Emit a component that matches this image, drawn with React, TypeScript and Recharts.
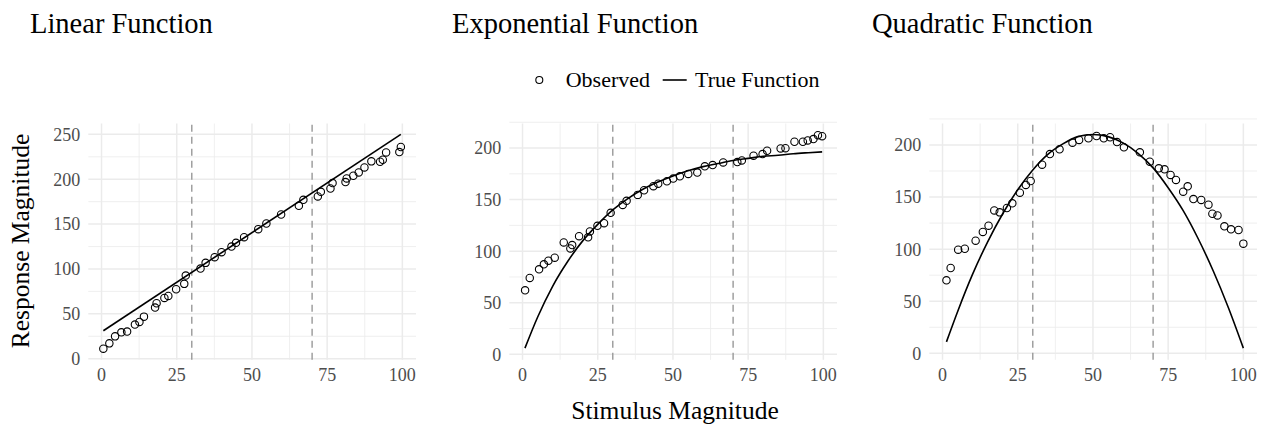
import React from "react"
import { CartesianGrid, ComposedChart, Line, ReferenceLine, Scatter, XAxis, YAxis } from "recharts"

// values
const linObsX = [0.6, 2.6, 4.5, 6.6, 8.5, 11.1, 12.6, 14.1, 17.8, 18.3, 20.9, 22.2, 24.8, 27.5, 28, 32.9, 34.6, 37.6, 39.9, 43.2, 44.7, 47.4, 52.1, 54.8, 59.7, 65.6, 67.1, 71.9, 72.9, 76.1, 76.8, 81.1, 81.5, 83.7, 85.5, 87.4, 89.7, 92.6, 93.5, 94.6, 99, 99.5]
const linObsY = [11.2, 17.1, 24.9, 29.4, 30.2, 38, 41, 46.9, 57, 61.8, 67.7, 70, 77.4, 83.4, 92.7, 100.5, 106.8, 113.1, 118.7, 125, 129.1, 135.4, 144.4, 150.7, 160.7, 170.4, 177.1, 180.8, 186, 189.7, 195.7, 196.8, 200.9, 203.9, 207.6, 213.2, 219.9, 219.5, 221.7, 229.9, 230.3, 235.9]
const linTrueX = [0.6, 99.5]
const linTrueY = [31.2, 250]

const expObsX = [0.85, 2.4, 5.5, 7.1, 8.6, 10.7, 13.7, 15.9, 16.5, 18.8, 21.8, 22.4, 24.9, 27.1, 29.3, 33.3, 34.6, 38.3, 40.4, 43.5, 45.1, 48, 50.1, 52.3, 55.1, 58.1, 60.6, 63.2, 66.7, 71.4, 72.9, 76.8, 79.8, 81.3, 85.8, 87.4, 90.4, 93.2, 94.8, 96.7, 98.2, 99.6]
const expObsY = [62.1, 74.1, 82.4, 87.3, 90.8, 93.7, 108.5, 102.7, 105.9, 114.6, 113.4, 119.2, 124.6, 127.2, 137.2, 144.9, 148.8, 154.6, 159.1, 163, 165.5, 167.8, 170.4, 172.6, 174.9, 176.2, 182.3, 183.5, 186.1, 186.4, 188, 192.6, 194.2, 197.4, 199.6, 199.9, 206.1, 206.1, 207.4, 208.7, 212.5, 211.5]
const expTrueX = [0.8, 5, 10, 15, 20, 25, 30, 35, 40, 45, 50, 55, 60, 65, 70, 75, 80, 85, 90, 95, 99.6]
const expTrueY = [6, 36, 66, 90, 110, 126, 140, 151, 160, 167, 173, 178, 182, 185, 188, 190, 192, 193, 194.5, 195.5, 196.3]

const quadObsX = [1.3, 2.7, 5.2, 7.4, 11, 13.4, 15.3, 17.2, 19, 21.4, 23.2, 25.7, 27.7, 29.3, 33.1, 35.7, 38.9, 43.2, 45.4, 48.5, 51.2, 53.6, 55.7, 58, 60.3, 65.6, 68.9, 71.9, 73.8, 75.8, 77.6, 80, 81.5, 83.4, 86, 88.4, 89.7, 91.4, 93.7, 95.9, 98.4, 100]
const quadObsY = [70.1, 81.9, 99.5, 100.4, 108.1, 116.5, 122.5, 137.2, 135.3, 139.5, 144, 154.2, 161.6, 165.4, 181.1, 191.3, 195.8, 202.2, 204.8, 206.4, 208.6, 206.4, 207.4, 202.8, 197.7, 192.9, 184, 177.6, 176.6, 171.2, 166.4, 155.2, 160.3, 148.1, 147.2, 142.7, 134, 132.4, 121.9, 119, 118.4, 105.3]
const quadTrueX = [1.3, 5, 10, 15, 20, 25, 30, 35, 40, 45, 50, 55, 60, 65, 70, 75, 80, 85, 90, 95, 100]
const quadTrueY = [11, 40, 76, 107, 134, 157, 176, 191, 201, 208, 210, 208, 202, 192, 178, 159, 137, 110, 79, 44, 5]

const xTicks = [0, 25, 50, 75, 100]
const xMinor = [12.5, 37.5, 62.5, 87.5]
const yTicksLin = [0, 50, 100, 150, 200, 250]
const yTicksCurve = [0, 50, 100, 150, 200]
const yMinor = [25, 75, 125, 175, 225]
const cutoffs = [30, 70]

const FONT = '"Liberation Serif", "Times New Roman", serif'

const zip = (xs: number[], ys: number[]) => xs.map((x, i) => ({ x, y: ys[i] }))

const ring = (p: any) => (
  <circle cx={p.cx} cy={p.cy} r={3.7} fill="none" stroke="#000" strokeWidth={1.1} />
)

// serif tick labels, drawn by hand so the font sticks
const XTick = (p: any) => (
  <text x={p.x} y={p.y} dy="0.71em" textAnchor="middle" fill="#4d4d4d" fontSize={18} fontFamily={FONT}>
    {p.payload.value}
  </text>
)
const YTick = (p: any) => (
  <text x={p.x} y={p.y} dy="0.355em" textAnchor="end" fill="#4d4d4d" fontSize={18} fontFamily={FONT}>
    {p.payload.value}
  </text>
)

function Panel({ left, obs, truth, yDomain, yTicks }: any) {
  return (
    <div style={{ position: "absolute", left, top: 110 }}>
      <ComposedChart width={386.2} height={279.8} margin={{ top: 13.5, right: 0, bottom: 0, left: 0 }}>
        <CartesianGrid stroke="#ebebeb" strokeWidth={0.8} verticalValues={xMinor} horizontalValues={yMinor} />
        <CartesianGrid stroke="#ebebeb" strokeWidth={1.5} verticalValues={xTicks} horizontalValues={yTicks} />
        <XAxis
          type="number"
          dataKey="x"
          domain={[-4.4, 104.6]}
          allowDataOverflow
          ticks={xTicks}
          axisLine={false}
          tickLine={false}
          height={30}
          tick={<XTick />}
        />
        <YAxis
          type="number"
          dataKey="y"
          domain={yDomain}
          allowDataOverflow
          ticks={yTicks}
          axisLine={false}
          tickLine={false}
          width={58.3}
          tick={<YTick />}
        />
        {cutoffs.map((c) => (
          <ReferenceLine key={c} x={c} stroke="#999999" strokeDasharray="7 5" strokeWidth={1.4} />
        ))}
        <Line data={truth} dataKey="y" type="monotone" stroke="#000" strokeWidth={1.6} dot={false} isAnimationActive={false} />
        <Scatter data={obs} dataKey="y" shape={ring} isAnimationActive={false} />
      </ComposedChart>
    </div>
  )
}

export default function App() {
  return (
    <div style={{ position: "absolute", left: 0, top: 0, width: 1262, height: 424, background: "#fff", overflow: "hidden", fontFamily: FONT }}>
      <Panel left={30} obs={zip(linObsX, linObsY)} truth={zip(linTrueX, linTrueY)} yDomain={[-1.2, 262.1]} yTicks={yTicksLin} />
      <Panel left={451.2} obs={zip(expObsX, expObsY)} truth={zip(expTrueX, expTrueY)} yDomain={[-5.3, 223.8]} yTicks={yTicksCurve} />
      <Panel left={871.2} obs={zip(quadObsX, quadObsY)} truth={zip(quadTrueX, quadTrueY)} yDomain={[-6.2, 220.6]} yTicks={yTicksCurve} />
      <svg width={1262} height={424} style={{ position: "absolute", left: 0, top: 0, pointerEvents: "none" }} fontFamily={FONT}>
        <text x={30} y={33} fontSize={28.5}>Linear Function</text>
        <text x={452} y={33} fontSize={28.5}>Exponential Function</text>
        <text x={872} y={33} fontSize={28.5}>Quadratic Function</text>
        <circle cx={539.3} cy={80} r={3.5} fill="none" stroke="#000" strokeWidth={1.1} />
        <text x={565.7} y={87} fontSize={22}>Observed</text>
        <line x1={662.7} x2={686.7} y1={80} y2={80} stroke="#000" strokeWidth={1.6} />
        <text x={695} y={87} fontSize={22}>True Function</text>
        <text x={29} y={241} fontSize={25.5} textAnchor="middle" transform="rotate(-90 29 241)">Response Magnitude</text>
        <text x={675} y={419} fontSize={25.5} textAnchor="middle">Stimulus Magnitude</text>
      </svg>
    </div>
  )
}
